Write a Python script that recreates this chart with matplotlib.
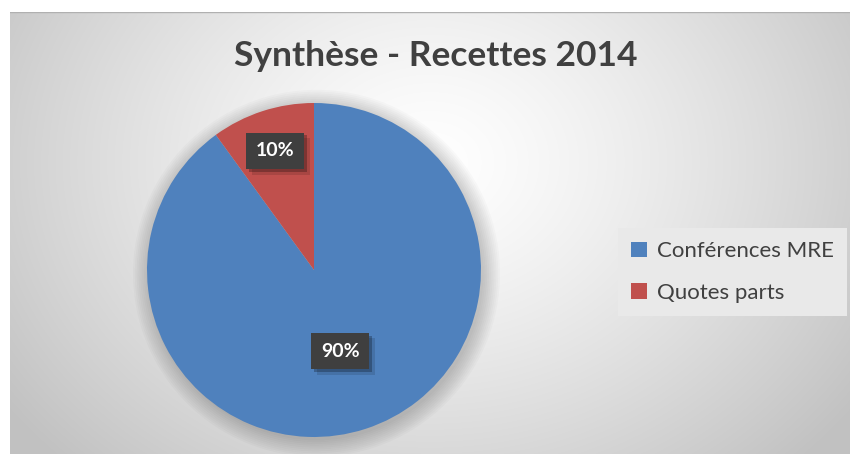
import numpy as np
import matplotlib.pyplot as plt
import matplotlib.patheffects as pe
from matplotlib.patches import Patch

# données
categories = ['Conférences MRE', 'Quotes parts']
valeurs = [90, 10]
etiquettes = ['90%', '10%']
couleurs = ['#4f81bd', '#c0504d']
titre = 'Synthèse - Recettes 2014'

plt.rcParams['font.family'] = ['Lato', 'DejaVu Sans']

W, H = 850, 454
fig = plt.figure(figsize=(W / 100, H / 100), dpi=100)
fig.patch.set_facecolor('white')

# fond en dégradé radial
bg = fig.add_axes([10 / W, 0, 1 - 10 / W, 1 - 12 / H])
yy, xx = np.mgrid[0:442, 0:840]
d = np.hypot((xx - 420) / 520, (yy - 150) / 420)
g = 1 - 0.24 * np.clip(d, 0, 1) ** 1.3
bg.imshow(np.dstack([g, g, g]), aspect='auto', interpolation='bilinear')
bg.axhline(0, color='#b0b0b0', lw=1)
bg.axis('off')

# camembert
r_px = 167
cx, cy = 314, 270
ax = fig.add_axes([(cx - r_px) / W, (H - cy - r_px) / H, 2 * r_px / W, 2 * r_px / H])

# ombre douce
for k in range(10):
    ax.add_patch(plt.Circle((0.015, -0.02), 1 + 0.011 * k, color='black',
                            alpha=0.018, lw=0, zorder=0, clip_on=False))

wedges, _ = ax.pie(valeurs, colors=couleurs, startangle=90, counterclock=False,
                   radius=1, wedgeprops=dict(linewidth=0))
for w in wedges:
    w.set_zorder(2)
ax.set_xlim(-1, 1)
ax.set_ylim(-1, 1)
ax.axis('off')

dist = [0.51, 0.75]
for w, lab, rr in zip(wedges, etiquettes, dist):
    a = np.deg2rad((w.theta1 + w.theta2) / 2)
    t = ax.text(rr * np.cos(a), rr * np.sin(a), lab, ha='center', va='center',
                color='white', fontsize=14, fontweight='bold', zorder=5,
                bbox=dict(boxstyle='square,pad=0.5', facecolor='#3f3f3f',
                          edgecolor='none'))
    t.get_bbox_patch().set_path_effects([
        pe.SimplePatchShadow(offset=(4, -4), shadow_rgbFace='black', alpha=0.12),
        pe.SimplePatchShadow(offset=(2, -2), shadow_rgbFace='black', alpha=0.25),
        pe.Normal()])

# titre
fig.text(436 / W, 1 - 56 / H, titre, ha='center', va='center', fontsize=25.5,
         fontweight='bold', color='#404040')

# légende
poignees = [Patch(facecolor=c, edgecolor='none') for c in couleurs]
leg = fig.legend(poignees, categories, loc='center left',
                 bbox_to_anchor=(618 / W, 1 - 272 / H), fontsize=16,
                 frameon=True, fancybox=False, labelcolor='#404040',
                 handlelength=0.7, handleheight=0.7, handletextpad=0.45,
                 labelspacing=0.95, borderpad=0.6, borderaxespad=0)
leg.get_frame().set_facecolor('#e9e9e9')
leg.get_frame().set_edgecolor('none')
leg.get_frame().set_alpha(1)

fig.savefig('out.png', dpi=100)
